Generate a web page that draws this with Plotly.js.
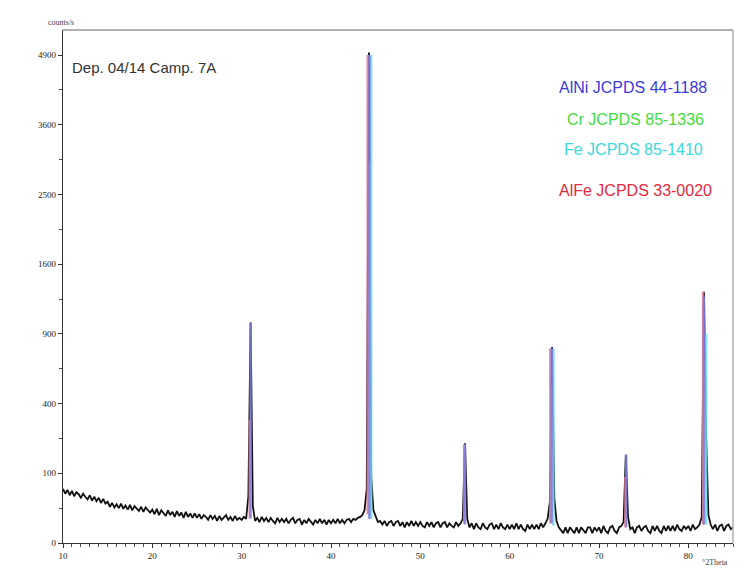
<!DOCTYPE html>
<html>
<head>
<meta charset="utf-8">
<script src="https://cdn.plot.ly/plotly-3.0.1.min.js"></script>
<style>html,body{margin:0;padding:0;background:#fff}#chart{width:749px;height:574px}</style>
</head>
<body>
<div id="chart"></div>
<script>
// Measured pattern: 2Theta from 10 to 85 deg in 0.25 deg steps, counts/s
const twoThetaStart = 10;
const twoThetaStep = 0.25;
const counts = [
  60, 50, 58, 47, 56, 45, 53, 49, 42, 50, 44, 39, 47, 37, 44, 36, 42, 33, 40, 32,
  35, 27, 33, 26, 31, 25, 32, 24, 29, 23, 30, 22, 28, 24, 21, 27, 20, 26, 22, 19,
  23, 17, 24, 16, 22, 19, 15, 22, 16, 20, 14, 21, 15, 19, 13, 20, 14, 18, 13, 18,
  13, 17, 12, 16, 14, 11, 16, 12, 15, 10, 15, 11, 14, 16, 11, 14, 10, 15, 11, 13,
  11, 14, 12, 45, 1000, 28, 10, 13, 9, 14, 10, 13, 9, 13, 10, 8, 13, 9, 12, 9,
  12, 8, 11, 13, 8, 11, 12, 7, 11, 8, 12, 9, 7, 11, 8, 12, 8, 11, 7, 11,
  8, 11, 8, 12, 8, 11, 8, 11, 12, 9, 12, 11, 13, 14, 16, 22, 60, 4950, 90, 22,
  14, 9, 10, 7, 10, 6, 9, 10, 6, 9, 10, 6, 9, 5, 9, 6, 10, 6, 9, 6,
  9, 6, 5, 9, 6, 9, 5, 8, 9, 5, 8, 9, 5, 8, 6, 5, 9, 6, 8, 12,
  205, 12, 5, 8, 4, 8, 5, 4, 8, 5, 4, 7, 8, 4, 7, 4, 8, 5, 4, 7,
  4, 7, 4, 8, 4, 7, 4, 3, 7, 4, 7, 4, 7, 4, 8, 5, 8, 12, 35, 790,
  40, 10, 5, 3, 2, 5, 2, 5, 3, 2, 5, 2, 5, 3, 2, 5, 5, 2, 5, 3,
  5, 2, 6, 3, 2, 5, 6, 3, 2, 5, 6, 9, 160, 14, 4, 5, 2, 5, 6, 3,
  5, 6, 3, 2, 6, 3, 6, 3, 2, 6, 3, 6, 3, 6, 3, 7, 4, 3, 6, 4,
  6, 3, 7, 4, 5, 7, 14, 1300, 220, 16, 7, 4, 7, 3, 6, 7, 3, 6, 7, 4,
  5
];

// Reference patterns (stick positions in 2Theta, heights in counts/s)
const alniPos = [31.0, 44.3, 55.0, 64.7, 73.05, 81.75];
const alniH   = [1000, 4900, 200, 780, 160, 1250];
const crPos   = [44.35, 64.65, 81.7];
const crH     = [3000, 500, 700];
const fePos   = [44.5, 64.9, 82.0];
const feH     = [4900, 780, 900];
const alfePos = [30.9, 44.1, 54.9, 64.55, 72.95, 81.65];
const alfeH   = [310, 4900, 200, 780, 90, 1300];

// sqrt-scale axis labels (counts/s)
const yTickCounts = [0, 100, 400, 900, 1600, 2500, 3600, 4900];
const yTickLabels = ['0', '100', '400', '900', '1600', '2500', '3600', '4900'];
const xTickVals = [10, 20, 30, 40, 50, 60, 70, 80];

const phaseNames = ['AlNi JCPDS 44-1188', 'Cr JCPDS 85-1336', 'Fe JCPDS 85-1410', 'AlFe JCPDS 33-0020'];
const phaseColors = ['#3b3bdc', '#45dc3c', '#3ad8e0', '#e8283c'];
const stickColors = ['#8080e6', '#70e070', '#70dce6', '#e07898'];

const sq = v => Math.sqrt(v);
const xs = counts.map((_, i) => twoThetaStart + i * twoThetaStep);

// stick base: local background level of the measured pattern
function localBase(p) {
  let m = Infinity;
  xs.forEach((x, i) => { if (Math.abs(x - p) <= 1.0) m = Math.min(m, counts[i]); });
  return m + 3;
}

function sticks(pos, h, color) {
  const x = [], y = [];
  pos.forEach((p, i) => { x.push(p, p, null); y.push(sq(localBase(p)), sq(h[i]), null); });
  return {type: 'scatter', mode: 'lines', x: x, y: y, hoverinfo: 'skip',
          line: {color: color, width: 2.4}, opacity: 0.85, showlegend: false};
}

const traces = [
  {type: 'scatter', mode: 'lines', x: xs, y: counts.map(sq),
   line: {color: '#111', width: 1.8}, showlegend: false},
  sticks(crPos, crH, stickColors[1]),
  sticks(fePos, feH, stickColors[2]),
  sticks(alfePos, alfeH, stickColors[3]),
  sticks(alniPos, alniH, stickColors[0])
];

const ann = [
  {text: 'counts/s', xref: 'paper', yref: 'paper', x: -0.025, y: 1.027, showarrow: false,
   font: {family: 'Liberation Serif', size: 8, color: '#444'}},
  {text: '°2Theta', xref: 'paper', yref: 'paper', x: 0.995, y: -0.05, showarrow: false,
   font: {family: 'Liberation Serif', size: 8, color: '#444'}},
  {text: 'Dep. 04/14 Camp. 7A', xref: 'paper', yref: 'paper', x: 0.0105, y: 0.947,
   xanchor: 'left', showarrow: false, font: {family: 'Liberation Sans', size: 15, color: '#333'}}
];
const legX = [0.737, 0.749, 0.745, 0.737];
const legY = [0.908, 0.846, 0.788, 0.708];
phaseNames.forEach((n, i) => ann.push({
  text: n, xref: 'paper', yref: 'paper', x: legX[i], y: legY[i], xanchor: 'left',
  showarrow: false, font: {family: 'Liberation Sans', size: 16, color: phaseColors[i]}
}));

const layout = {
  width: 749, height: 574,
  margin: {l: 63, r: 16, t: 30, b: 31},
  paper_bgcolor: '#fff', plot_bgcolor: '#fff',
  showlegend: false,
  xaxis: {
    range: [10, 85], showgrid: false, zeroline: false,
    showline: true, linecolor: '#333', linewidth: 1.3,
    ticks: 'outside', ticklen: 4, tickcolor: '#333',
    tickvals: xTickVals, ticktext: xTickVals.map(String),
    tickfont: {family: 'Liberation Serif', size: 9, color: '#222'},
    minor: {dtick: 1, tick0: 10, ticks: 'outside', ticklen: 3, tickcolor: '#555', showgrid: false}
  },
  yaxis: {
    range: [0, 73.6], showgrid: false, zeroline: false,
    showline: true, linecolor: '#333', linewidth: 1.3,
    ticks: 'outside', ticklen: 4, tickcolor: '#333',
    tickvals: yTickCounts.map(sq), ticktext: yTickLabels,
    tickfont: {family: 'Liberation Serif', size: 9, color: '#222'},
    minor: {tickvals: [5, 15, 25, 35, 45, 55, 65], ticks: 'outside', ticklen: 3, tickcolor: '#555', showgrid: false}
  },
  shapes: [
    {type: 'line', xref: 'paper', yref: 'paper', x0: 0, x1: 1, y0: 1, y1: 1, line: {color: '#b0b0b0', width: 2}},
    {type: 'line', xref: 'paper', yref: 'paper', x0: 1, x1: 1, y0: 0, y1: 1, line: {color: '#b0b0b0', width: 1.5}}
  ],
  annotations: ann
};

Plotly.newPlot('chart', traces, layout, {displayModeBar: false, staticPlot: true});
</script>
</body>
</html>
